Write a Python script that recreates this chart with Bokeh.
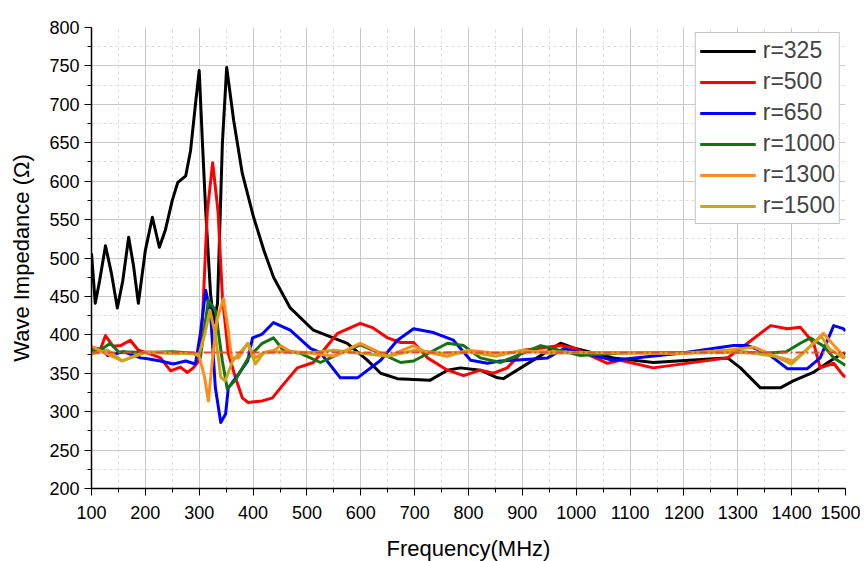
from bokeh.plotting import figure
from bokeh.models import FixedTicker, Legend, LegendItem, Span
from bokeh.embed import file_html
from bokeh.resources import INLINE

# r = 325
x325 = [100, 107, 115, 126, 137, 148, 158, 169, 178, 187, 200, 213, 226, 237, 250, 260, 275, 284, 293,
        300, 306, 312, 321, 327, 334, 343, 351, 364, 380, 401, 420, 438, 469, 512, 575, 612, 637, 668,
        729, 761, 785, 822, 854, 865, 897, 971, 995, 1069, 1143, 1255, 1281, 1305, 1342, 1379, 1403,
        1440, 1478, 1496, 1500]
y325 = [506, 441, 470, 516, 480, 435, 470, 527, 490, 441, 510, 553, 514, 536, 575, 598, 607, 640, 700,
        744, 650, 562, 454, 415, 441, 649, 748, 679, 610, 553, 510, 475, 435, 406, 389, 367, 350, 343,
        341, 354, 357, 354, 344, 343, 357, 389, 383, 370, 364, 369, 370, 357, 331, 331, 340,
        351, 369, 376, 375]

# r = 500
x500 = [100, 110, 117, 126, 140, 154, 172, 187, 210, 228, 247, 265, 278, 289, 299, 306, 315, 325, 335,
        343, 354, 367, 380, 391, 417, 436, 451, 482, 512, 531, 557, 599, 623, 650, 674, 698, 724, 761,
        791, 822, 846, 872, 902, 971, 995, 1058, 1082, 1143, 1281, 1318, 1361, 1392, 1416, 1441, 1453,
        1478, 1496, 1500]
y500 = [380, 378, 382, 399, 385, 386, 393, 380, 375, 370, 353, 358, 351, 357, 366, 420, 560, 624, 560,
        450, 376, 345, 318, 312, 314, 318, 331, 357, 364, 380, 402, 415, 409, 396, 390, 390, 370, 354,
        347, 354, 350, 357, 380, 386, 383, 363, 367, 357, 370, 389, 412, 408, 410, 389, 357,
        363, 347, 345]

# r = 650
x650 = [100, 122, 130, 160, 191, 204, 228, 252, 275, 293, 302, 312, 321, 330, 340, 349, 354, 373, 390,
        399, 417, 438, 469, 507, 525, 562, 594, 637, 668, 698, 735, 772, 804, 835, 859, 884, 947, 977,
        1069, 1194, 1292, 1318, 1355, 1392, 1429, 1453, 1478, 1496, 1500]
y650 = [384, 380, 373, 378, 370, 369, 366, 362, 366, 362, 401, 458, 428, 331, 286, 297, 331, 349, 366,
        396, 401, 416, 406, 382, 377, 344, 344, 367, 393, 408, 403, 393, 367, 363, 366, 367, 370, 382,
        367, 376, 386, 386, 376, 356, 356, 370, 412, 408, 405]

# r = 1000
x1000 = [100, 120, 135, 150, 200, 250, 290, 302, 317, 330, 343, 352, 367, 391, 417, 438, 456, 488, 525,
         562, 599, 637, 674, 698, 761, 791, 822, 859, 934, 1008, 1100, 1200, 1300, 1350, 1390, 1416,
         1435, 1460, 1478, 1496, 1500]
y1000 = [378, 382, 389, 378, 377, 378, 376, 370, 445, 432, 366, 330, 341, 370, 389, 396, 380, 376, 364,
         376, 387, 376, 364, 366, 389, 386, 370, 364, 386, 373, 377, 377, 378, 376, 378, 389,
         396, 385, 370, 362, 360]

# r = 1300
x1300 = [100, 120, 157, 200, 250, 290, 300, 310, 317, 325, 333, 345, 353, 360, 373, 390, 404, 420, 440,
         451, 470, 500, 550, 599, 650, 698, 720, 760, 800, 850, 900, 950, 1000, 1100, 1200, 1280, 1330,
         1370, 1403, 1430, 1459, 1480, 1500]
y1300 = [385, 378, 366, 378, 376, 376, 372, 345, 314, 370, 420, 447, 410, 370, 370, 389, 370, 377, 380,
         386, 378, 377, 372, 389, 372, 386, 378, 372, 380, 376, 378, 378, 377, 376, 376, 380, 384,
         372, 366, 382, 402, 385, 370]

# r = 1500
x1500 = [100, 130, 157, 200, 300, 310, 320, 330, 340, 348, 362, 391, 404, 420, 450, 500, 550, 600, 650,
         700, 750, 800, 850, 900, 950, 1000, 1100, 1200, 1280, 1330, 1370, 1400, 1430, 1455, 1470,
         1496, 1500]
y1500 = [375, 380, 366, 377, 375, 400, 432, 400, 345, 340, 366, 389, 362, 377, 378, 376, 380, 376, 372,
         380, 376, 378, 372, 380, 376, 377, 377, 376, 378, 376, 372, 362, 382, 398, 382,
         370, 372]

free_space = 377

x_ticks = list(range(100, 1501, 100))
y_ticks = list(range(200, 801, 50))

p = figure(width=860, height=553, output_backend="svg", toolbar_location=None,
           x_range=(100, 1500), y_range=(200, 800),
           min_border_left=91, min_border_right=15, min_border_top=27, min_border_bottom=65)
p.frame_width = 754
p.frame_height = 461
p.outline_line_color = None
p.background_fill_color = "white"

p.xaxis.ticker = FixedTicker(ticks=x_ticks, minor_ticks=list(range(100, 1501, 50)))
p.yaxis.ticker = FixedTicker(ticks=y_ticks, minor_ticks=list(range(200, 801, 25)))

for ax in (p.xaxis[0], p.yaxis[0]):
    ax.axis_line_color = "black"
    ax.axis_line_width = 1.5
    ax.major_tick_line_color = "black"
    ax.minor_tick_line_color = "black"
    ax.major_tick_out = 7
    ax.major_tick_in = 0
    ax.minor_tick_out = 4
    ax.minor_tick_in = 0
    ax.major_label_text_font = "Liberation Sans"
    ax.major_label_text_font_size = "18px"
    ax.major_label_text_color = "black"
    ax.axis_label_text_font = "Liberation Sans"
    ax.axis_label_text_font_size = "22px"
    ax.axis_label_text_font_style = "normal"
    ax.axis_label_text_color = "black"

p.xaxis.axis_label = "Frequency(MHz)"
p.yaxis.axis_label = "Wave Impedance (Ω)"
p.xaxis.axis_label_standoff = 14
p.yaxis.axis_label_standoff = 12
p.xaxis.major_label_standoff = 10

p.grid.grid_line_color = "#c8c8c8"
p.grid.grid_line_width = 1
p.grid.minor_grid_line_color = "#dddddd"
p.grid.minor_grid_line_dash = "3 3"

series = [
    ("r=325", x325, y325, "#000000"),
    ("r=500", x500, y500, "#ff0000"),
    ("r=650", x650, y650, "#0000ff"),
    ("r=1000", x1000, y1000, "#137313"),
    ("r=1300", x1300, y1300, "#ff8c1a"),
    ("r=1500", x1500, y1500, "#cfa21c"),
]

items = []
for name, xs, ys, col in series:
    r = p.line(xs, ys, line_color=col, line_width=3, line_join="round")
    items.append(LegendItem(label=name, renderers=[r]))

p.add_layout(Span(location=free_space, dimension="width", line_color="#d9502a",
                  line_width=2, line_dash="8 3 2 3"))

legend = Legend(items=items, location="top_right", border_line_color="#888888",
                border_line_width=1, label_text_font="Liberation Sans",
                label_text_font_size="23px", glyph_width=56, glyph_height=26,
                label_height=26, label_standoff=7, spacing=4, padding=4, margin=5,
                background_fill_alpha=1.0)
p.add_layout(legend)

open("out.html", "w").write(file_html(p, INLINE))
